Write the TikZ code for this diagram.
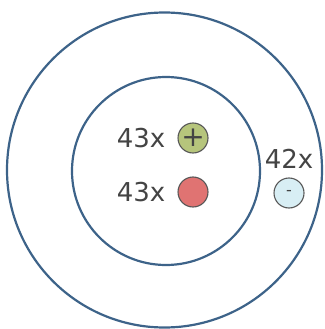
\documentclass[tikz,border=0pt]{standalone}
\usepackage{fontspec}
\setmainfont{DejaVu Sans}
\usepackage{xcolor}
\usetikzlibrary{positioning}

\definecolor{shellblue}{HTML}{3D6389}
\definecolor{ionink}{HTML}{444444}
\definecolor{posgreen}{HTML}{B6C57C}
\definecolor{redball}{HTML}{E07372}
\definecolor{neglight}{HTML}{D8EEF4}

\begin{document}
\begin{tikzpicture}[
    x=1pt, y=-1pt,
    shell/.style={circle, draw=shellblue, line width=2.2pt, inner sep=0pt},
    particle/.style={circle, draw=ionink!90, line width=1.1pt, minimum size=30pt,
      inner sep=0pt, text=ionink},
    count/.style={font=\fontsize{26}{26}\selectfont, text=ionink, inner sep=0pt}
  ]
  \useasboundingbox (0,0) rectangle (324,329);
  \node[shell, minimum size=315pt] (outer) at (164.5,170) {};
  \node[shell, minimum size=188pt] (inner) at (166,171)   {};

  \node[particle, fill=posgreen, font=\fontsize{28}{28}\selectfont] (plus) at (193,138) {+};
  \node[particle, fill=redball]  (core)  at (193,192) {};
  \node[particle, fill=neglight, font=\fontsize{16}{16}\selectfont] (minus) at (289,193) {-};

  \node[count, left=12pt of plus]  (nplus)  {43x};
  \node[count, left=12pt of core]  (ncore)  {43x};
  \node[count, above=9pt of minus] (nminus) {42x};
\end{tikzpicture}
\end{document}
